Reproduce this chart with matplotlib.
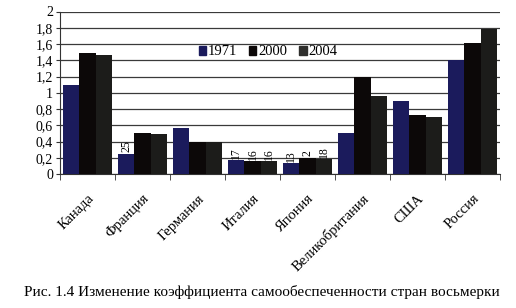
import matplotlib
matplotlib.use("Agg")
import matplotlib.pyplot as plt
import numpy as np
from matplotlib.ticker import FixedLocator, FuncFormatter

countries = ["Канада", "Франция", "Германия", "Италия", "Япония",
             "Великобритания", "США", "Россия"]
years = ["1971", "2000", "2004"]
v1971 = [1.10, 0.25, 0.57, 0.17, 0.13, 0.51, 0.90, 1.40]
v2000 = [1.49, 0.51, 0.40, 0.16, 0.20, 1.19, 0.73, 1.61]
v2004 = [1.47, 0.49, 0.39, 0.16, 0.18, 0.96, 0.70, 1.79]
label_texts = {("1971", 1): "25", ("1971", 3): "17", ("2000", 3): "16",
               ("2004", 3): "16", ("1971", 4): "13", ("2000", 4): "2",
               ("2004", 4): "18"}
yticks = [0, 0.2, 0.4, 0.6, 0.8, 1, 1.2, 1.4, 1.6, 1.8, 2]
caption = "Рис. 1.4 Изменение коэффициента самообеспеченности стран восьмерки"

plt.rcParams['font.family'] = ['Liberation Serif', 'DejaVu Serif']

fig = plt.figure(figsize=(5.16, 3.08), dpi=100)
ax = fig.add_axes([60/516, 1-174/308, 440/516, (174-11.5)/308])

colors = ["#1b1b5c", "#0c0808", "#1c1c1a"]
legend_colors = ["#1b1b5c", "#0c0808", "#2e2e2c"]
series = [v1971, v2000, v2004]
x = np.arange(len(countries))
w = 0.3
for i, (yr, vals) in enumerate(zip(years, series)):
    ax.bar(x + (i - 1) * w, vals, width=w, color=colors[i], zorder=3,
           label=yr, linewidth=0)
    for j, v in enumerate(vals):
        t = label_texts.get((yr, j))
        if t:
            ax.annotate(t, (x[j] + (i - 1) * w, v), xytext=(0, 1),
                        textcoords="offset points", rotation=90,
                        ha="center", va="bottom", fontsize=8.5, zorder=4)

ax.set_xlim(-0.5, len(countries) - 0.5)
ax.set_ylim(0, 2)
ax.yaxis.set_major_locator(FixedLocator(yticks))
ax.yaxis.set_major_formatter(FuncFormatter(
    lambda v, p: ("%g" % round(v, 1)).replace(".", ",")))
ax.grid(axis="y", color="#3a3a3a", linewidth=0.9, zorder=0)
ax.set_xticks(x)
ax.set_xticklabels(countries, rotation=45, ha="right", va="top",
                   rotation_mode="anchor", fontsize=10.5)
ax.set_xticks(np.arange(-0.5, len(countries)), minor=True)
ax.tick_params(axis="x", which="major", length=0, pad=13)
ax.tick_params(axis="x", which="minor", length=4, direction="out",
               color="#333333")
ax.tick_params(axis="y", length=3, labelsize=10, pad=2, color="#333333")
for s in ["top", "right"]:
    ax.spines[s].set_visible(False)
ax.spines["left"].set_color("#333333")
ax.spines["bottom"].set_color("#333333")

handles = [plt.Rectangle((0, 0), 1, 1, color=c) for c in legend_colors]
ax.legend(handles, years, loc="upper left", bbox_to_anchor=(0.295, 0.845),
          ncol=3, frameon=False, fontsize=10.5, handlelength=0.5,
          handleheight=0.6, handletextpad=0.15, columnspacing=0.8,
          borderpad=0.1)

fig.text(0.508, 1-292/308, caption, ha="center", va="center", fontsize=11)

fig.savefig("out.png", dpi=100)
